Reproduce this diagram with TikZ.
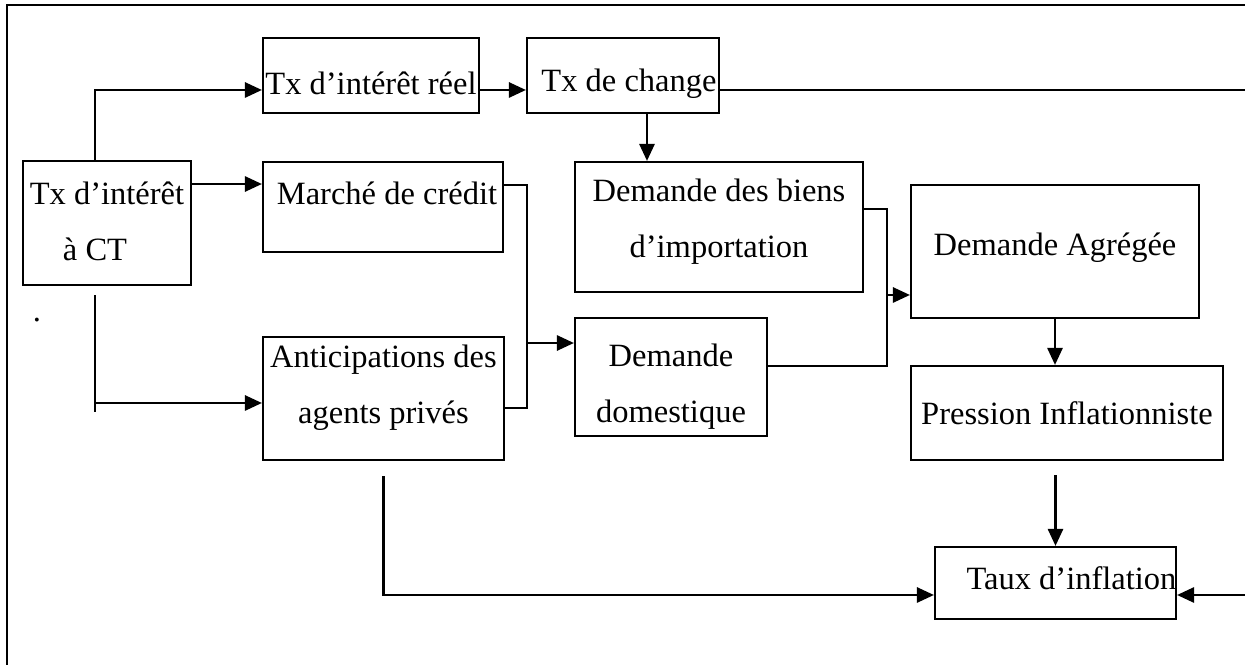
\documentclass[tikz,border=0pt]{standalone}
\usepackage{fontspec}
\setmainfont{Liberation Serif}
\usetikzlibrary{arrows.meta}
\tikzstyle{box} = [draw, line width=1.2pt, inner sep=0pt]
\tikzstyle{arrow} = [line width=1.5pt, -{Triangle[length=0.34cm,width=0.3cm]}]
\tikzstyle{link} = [line width=1.2pt]

\begin{document}
\begin{tikzpicture}[x=0.02cm, y=-0.02cm, font=\fontsize{18.5}{32}\selectfont,
    every label/.style={align=center}]
    \useasboundingbox (0,0) rectangle (1245,665);

    % Frame (only top and left sides are visible)
    \draw[line width=1.7pt] (7,665) -- (7,5) -- (1245,5);

    % Boxes:
    \node[box, minimum width=3.36cm, minimum height=2.48cm,
        label={[yshift=0.04cm]center:Tx d’intérêt\\ à CT\hspace*{0.48cm}}] (ct) at (107,223) {};
    \node[box, minimum width=4.32cm, minimum height=1.5cm,
        label={[yshift=-0.15cm]center:Tx d’intérêt réel}] (reel) at (371,75.5) {};
    \node[box, minimum width=3.84cm, minimum height=1.5cm,
        label={[xshift=0.12cm,yshift=-0.17cm]center:Tx de change}] (change) at (623,75.5) {};
    \node[box, minimum width=4.8cm, minimum height=1.8cm,
        label={[xshift=0.08cm,yshift=0.28cm]center:Marché de crédit}] (credit) at (383,207) {};
    \node[box, minimum width=5.76cm, minimum height=2.6cm,
        label={[yshift=0.11cm]center:Demande des biens\\ d’importation}] (import) at (719,227) {};
    \node[box, minimum width=5.76cm, minimum height=2.66cm,
        label={[yshift=0.07cm]center:Demande Agrégée}] (agreg) at (1055,251.5) {};
    \node[box, minimum width=4.82cm, minimum height=2.46cm,
        label={[yshift=0.22cm]center:Anticipations des\\ agents privés}] (antic) at (383.5,398.5) {};
    \node[box, minimum width=3.84cm, minimum height=2.36cm,
        label={[yshift=-0.19cm]center:Demande\\ domestique}] (domest) at (671,377) {};
    \node[box, minimum width=6.24cm, minimum height=1.88cm,
        label={center:Pression Inflationniste}] (press) at (1067,413) {};
    \node[box, minimum width=4.82cm, minimum height=1.44cm,
        label={[xshift=0.32cm,yshift=0.1cm]center:Taux d’inflation}] (taux) at (1055.5,583) {};

    % stray dot
    \node (dot) at (37,320) {.};

    % Vertical spines
    \coordinate (spineL) at (95,0);
    \coordinate (spineM) at (527,0);
    \coordinate (spineR) at (887,0);
    \coordinate (edge) at (1245,0);

    % Connectors:
    \draw[arrow] (ct.north -| spineL) |- ([yshift=-0.29cm]reel.west);
    \draw[arrow] ([yshift=0.78cm]ct.east) -- ([yshift=0.78cm]ct.east -| credit.west);
    \draw[link] ([yshift=-0.18cm]ct.south -| spineL) -- ([yshift=-0.27cm]antic.west -| spineL);
    \draw[arrow] ([yshift=-0.09cm]antic.west -| spineL) -- ([yshift=-0.09cm]antic.west);

    \draw[arrow] ([yshift=-0.29cm]reel.east) -- ([yshift=-0.29cm]change.west);
    \draw[arrow] ([xshift=0.48cm]change.south) -- ([xshift=0.48cm]change.south |- import.north);
    \draw[link] ([yshift=-0.29cm]change.east) -- ([yshift=-0.29cm]change.east -| edge);
    \draw[arrow] ([yshift=-0.24cm]taux.east -| edge) -- ([yshift=-0.24cm]taux.east);

    \draw[link] ([yshift=0.44cm]credit.east) -| ([yshift=-0.19cm]antic.east -| spineM) -- ([yshift=-0.19cm]antic.east);
    \draw[arrow] ([yshift=0.68cm]domest.west -| spineM) -- ([yshift=0.68cm]domest.west);

    \draw[link] ([yshift=0.36cm]import.east) -| ([yshift=0.22cm]domest.east -| spineR) -- ([yshift=0.22cm]domest.east);
    \draw[arrow] ([yshift=-0.87cm]agreg.west -| spineR) -- ([yshift=-0.87cm]agreg.west);

    \draw[arrow] (agreg.south) -- (agreg.south |- press.north);
    \draw[arrow] ([yshift=-0.28cm]press.south -| taux.north) -- (taux.north);
    \draw[arrow] ([yshift=-0.3cm]antic.south) |- ([yshift=-0.24cm]taux.west);

\end{tikzpicture}
\end{document}
